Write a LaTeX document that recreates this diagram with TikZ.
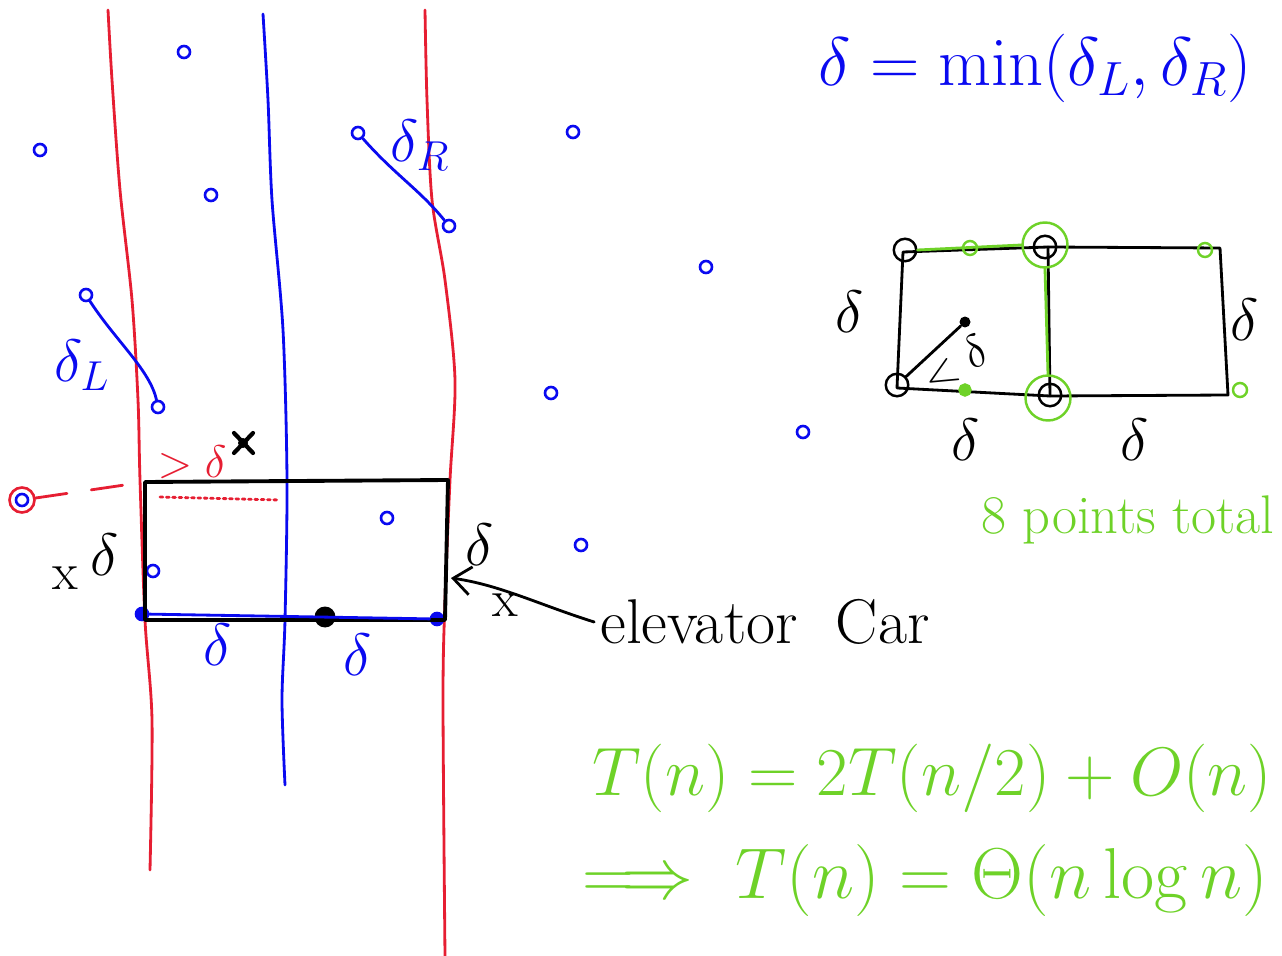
\RequirePackage{fix-cm}
\documentclass[tikz,border=0pt]{standalone}
\usepackage{amsmath,amssymb}
\usepackage{tikz}
\usetikzlibrary{arrows.meta}
\definecolor{penred}{RGB}{230,30,50}
\definecolor{penblue}{RGB}{10,10,240}
\definecolor{pengreen}{RGB}{110,210,40}
\tikzset{
  pen/.style={line width=1.6pt,line cap=round,line join=round},
  bpt/.style={circle,draw=penblue,line width=1.5pt,inner sep=0pt,minimum size=0.24cm},
  gring/.style={circle,draw=pengreen,line width=1.4pt,inner sep=0pt},
  kring/.style={circle,draw=black,line width=1.4pt,inner sep=0pt,minimum size=0.45cm},
  big/.style={font=\fontsize{39}{44}\selectfont},
  mid/.style={font=\fontsize{34}{40}\selectfont},
  small/.style={font=\fontsize{26}{30}\selectfont}
}

\begin{document}
\begin{tikzpicture}[x=0.02cm,y=-0.02cm]
\useasboundingbox (0,0) rectangle (1282,956);
% dividing lines
\draw [pen,penred] plot[smooth] coordinates {(108,10) (112,80) (120,190) (132,300) (138,400) (140,480) (145,620) (152,720) (150,870)};
\draw [pen,penred] plot[smooth] coordinates {(425,10) (427,100) (432,200) (445,280) (455,380) (450,480) (445,600) (443,700) (445,956)};
\draw [pen,penblue] plot[smooth] coordinates {(263,14) (268,100) (272,200) (283,330) (287,480) (285,620) (282,700) (285,785)};

% points
\node [bpt] (p1) at (184,52) {};
\node [bpt] (p2) at (40,150) {};
\node [bpt] (p3) at (211,195) {};
\node [bpt] (pL1) at (86,295) {};
\node [bpt] (pL2) at (158,407) {};
\node [bpt] (pR1) at (358,133) {};
\node [bpt] (pR2) at (449,226) {};
\node [bpt] (p4) at (573,132) {};
\node [bpt] (p5) at (706,267) {};
\node [bpt] (p6) at (551,393) {};
\node [bpt] (p7) at (803,432) {};
\node [bpt] (p8) at (387,518) {};
\node [bpt] (p9) at (581,545) {};
\node [bpt] (p10) at (153,571) {};
\node [bpt,fill=penblue] (p11) at (142,614) {};
\node [bpt,fill=penblue] (p12) at (437,619) {};
\node [bpt,draw=penred,minimum size=0.5cm] (q) at (22,500) {};
\node [bpt] at (q) {};
\node [circle,fill=black,inner sep=0pt,minimum size=0.42cm] (c) at (325,617) {};
\coordinate (s) at (243,443);
\draw [pen,line width=2.4pt] ([shift={(-9,-10)}]s) -- ([shift={(10,10)}]s);
\draw [pen,line width=2.4pt] ([shift={(10,-10)}]s) -- ([shift={(-9,10)}]s);
\fill (s) circle (0.1cm);

\draw [pen,penblue] (pR1) .. controls (395,175) and (420,190) .. (pR2);
\draw [pen,penblue] (pL1) .. controls (115,340) and (150,370) .. (pL2);
\node [mid,penblue] (dR) at (420,145) {$\delta_R$};
\node [mid,penblue] (dL) at (82,365) {$\delta_L$};

% the strip box
\coordinate (r1) at (145,482);
\coordinate (r2) at (448,480);
\coordinate (r3) at (445,620);
\coordinate (r4) at (145,620);
\draw [pen,black,line width=2.2pt] (r1) -- (r2) -- (r3) -- (r4) -- cycle;
\draw [pen,penblue] (p11) -- (p12);
\draw [pen,penred,dashed,dash pattern=on 18pt off 14pt] (q) -- (r1);
\draw [pen,penred,dotted] (160,497) -- (280,500);
\node [small,penred] (gt) at (192,462) {$>\delta$};
\node [mid] (dl) at (105,555) {$\delta$};
\node [mid] (dr) at (480,545) {$\delta$};
\node [font=\fontsize{30}{34}\selectfont] (xl) at (65,578) {x};
\node [font=\fontsize{30}{34}\selectfont] (xr) at (505,605) {x};
\node [mid,penblue] (db1) at (218,645) {$\delta$};
\node [mid,penblue] (db2) at (358,655) {$\delta$};
\node [font=\fontsize{36}{42}\selectfont] (car) at (765,622) {elevator\ \ Car};
\coordinate (hit) at (451,578);
\draw [pen,-{Straight Barb[length=10pt,width=16pt]}] (car.west) .. controls (540,605) and (500,585) .. (hit);

% top formula
\node [big,penblue] (dmin) at (1035,68) {$\delta = \min(\delta_L,\delta_R)$};

% 2delta x delta box
\coordinate (b1) at (903,252);
\coordinate (b2) at (1048,247);
\coordinate (b3) at (1220,248);
\coordinate (b4) at (1228,395);
\coordinate (b5) at (1050,396);
\coordinate (b6) at (897,388);
\draw [pen] (b1) -- (b2) -- (b3) -- (b4) -- (b5) -- (b6) -- cycle;
\draw [pen] (b2) -- (b5);
\node [kring] (k1) at (905,250) {};
\node [kring] (k2) at (1045,247) {};
\node [kring] (k3) at (897,385) {};
\node [kring] (k4) at (1050,395) {};
\node [circle,fill=black,inner sep=0pt,minimum size=0.22cm] (m) at (965,322) {};
\draw [pen] (k3) -- (m);
\node [small,rotate=30,inner sep=1pt] (le) at (955,364) {$<\delta$};
\node [gring,minimum size=0.28cm] (g1) at (970,248) {};
\node [gring,minimum size=0.9cm] (g2) at (1045,245) {};
\node [gring,minimum size=0.28cm] (g3) at (1205,250) {};
\node [gring,fill=pengreen,minimum size=0.22cm] (g4) at (965,390) {};
\node [gring,minimum size=0.9cm] (g5) at (1048,398) {};
\node [gring,minimum size=0.28cm] (g6) at (1240,390) {};
\draw [pen,pengreen] (k1.east) -- (g2.west);
\draw [pen,pengreen] (g2.south) -- (g5.north);
\node [mid] (e1) at (850,312) {$\delta$};
\node [mid] (e2) at (1245,320) {$\delta$};
\node [mid] (e3) at (966,440) {$\delta$};
\node [mid] (e4) at (1135,440) {$\delta$};
\node [font=\fontsize{31}{36}\selectfont,pengreen] (tot) at (1128,520) {8 points total};

% recurrence
\node [big,pengreen] (rec) at (932,778) {$T(n) = 2T(n/2) + O(n)$};
\node [big,pengreen,font=\fontsize{41}{46}\selectfont] (sol) at (925,880) {$\Longrightarrow\ T(n) = \Theta(n\log n)$};
\end{tikzpicture}
\end{document}
